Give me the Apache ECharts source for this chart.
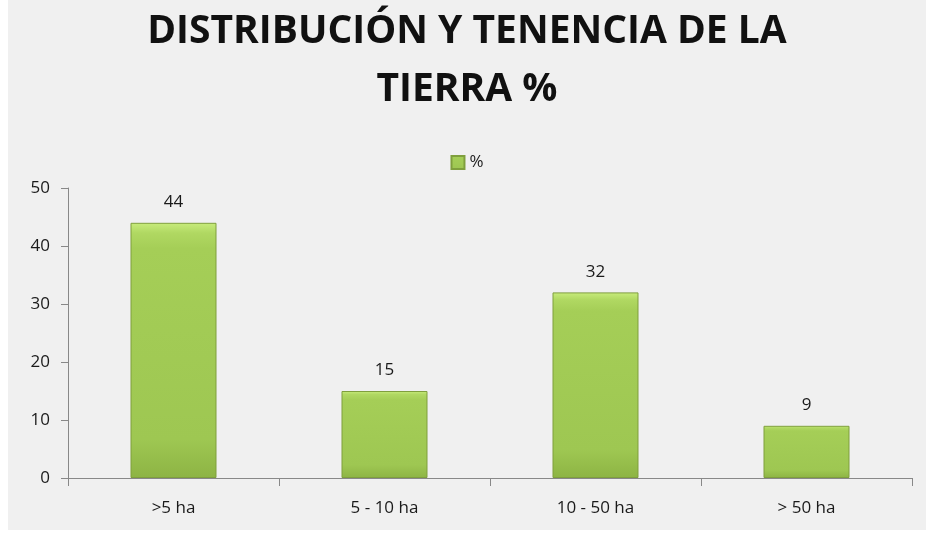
<!DOCTYPE html>
<html>
<head>
<meta charset="utf-8">
<script src="https://cdn.jsdelivr.net/npm/echarts@6/dist/echarts.min.js"></script>
<style>
  html, body { margin: 0; padding: 0; background: #ffffff; }
  #chart { position: absolute; left: 8px; top: 0; width: 918px; height: 530px; background: #f0f0f0; }
</style>
</head>
<body>
<div id="chart"></div>
<script>
// categorías y valores (%)
var categorias = ['>5 ha', '5 - 10 ha', '10 - 50 ha', '> 50 ha'];
var valores = [44, 15, 32, 9];
var nombreSerie = '%';

var myChart = echarts.init(document.getElementById('chart'));
// relleno verde con un ligero biselado arriba
var verde = new echarts.graphic.LinearGradient(0, 0, 0, 1, [
  { offset: 0, color: '#c8ec7c' },
  { offset: 0.04, color: '#b0d862' },
  { offset: 0.1, color: '#a5ce57' },
  { offset: 0.85, color: '#9ec752' },
  { offset: 1, color: '#8db444' }
]);

var option = {
  textStyle: { fontFamily: 'Open Sans' },
  title: {
    text: 'DISTRIBUCIÓN Y TENENCIA DE LA\nTIERRA %',
    left: 'center',
    top: -2,
    textStyle: {
      fontFamily: 'Open Sans',
      fontSize: 39,
      fontWeight: 'bold',
      color: '#111111',
      lineHeight: 58
    }
  },
  legend: {
    top: 149,
    left: 'center',
    icon: 'rect',
    itemWidth: 13,
    itemHeight: 13,
    itemGap: 6,
    textStyle: { fontSize: 17, color: '#222' },
    data: [nombreSerie]
  },
  grid: {
    left: 60,
    right: 14,
    top: 188,
    bottom: 52,
    containLabel: false
  },
  xAxis: {
    type: 'category',
    data: categorias,
    axisLine: { lineStyle: { color: '#888888' } },
    axisTick: { show: true, alignWithLabel: false, length: 8, lineStyle: { color: '#888888' } },
    axisLabel: { fontSize: 17, color: '#1a1a1a', margin: 22 }
  },
  yAxis: {
    type: 'value',
    min: 0,
    max: 50,
    interval: 10,
    axisLine: { show: true, lineStyle: { color: '#888888' } },
    axisTick: { show: true, length: 7, lineStyle: { color: '#888888' } },
    splitLine: { show: false },
    axisLabel: { fontSize: 17, color: '#1a1a1a', margin: 18 }
  },
  series: [{
    name: nombreSerie,
    type: 'bar',
    barWidth: 86,
    data: valores,
    itemStyle: {
      color: verde,
      borderColor: '#7f9f3d',
      borderWidth: 1
    },
    label: {
      show: true,
      position: 'top',
      distance: 12,
      fontSize: 17,
      color: '#1a1a1a'
    }
  }]
};
myChart.setOption(option);
</script>
</body>
</html>
